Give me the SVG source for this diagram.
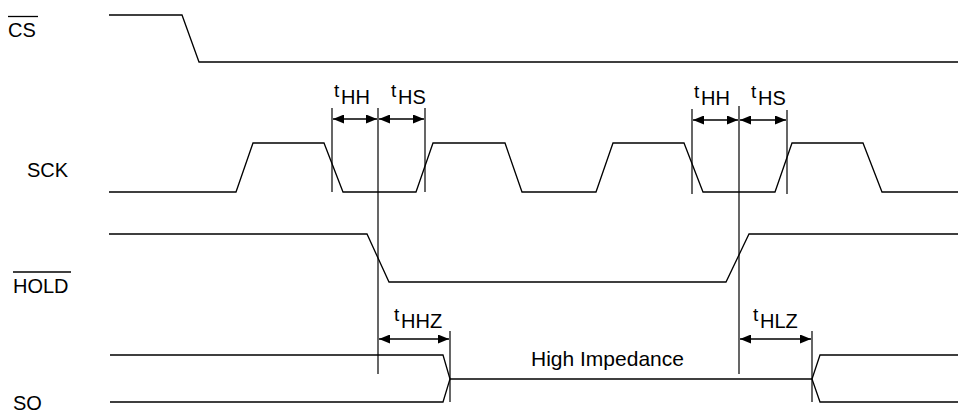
<svg xmlns="http://www.w3.org/2000/svg" width="958" height="414" viewBox="0 0 958 414">
<style>
.sig{fill:none;stroke:#000;stroke-width:1.3}
.ref{fill:none;stroke:#000;stroke-width:1.2}
.dim{fill:none;stroke:#000;stroke-width:1.6;marker-start:url(#ah);marker-end:url(#ah)}
.lbl{font-family:"Liberation Sans",Arial,sans-serif;font-size:20px;fill:#000}
.t{font-size:19px}
</style>
<defs>
<marker id="ah" viewBox="0 0 11 9" refX="11" refY="4.5" markerWidth="11" markerHeight="9" markerUnits="userSpaceOnUse" orient="auto-start-reverse">
<path d="M0,0 L11,4.5 L0,9 Z" fill="#000"/>
</marker>
</defs>
<rect width="958" height="414" fill="#fff"/>
<g id="label-cs"><text class="lbl" x="8" y="37">CS</text><line class="sig" x1="8" y1="16.5" x2="38" y2="16.5"/></g>
<g id="label-sck"><text class="lbl" x="27" y="177">SCK</text></g>
<g id="label-hold"><text class="lbl" x="13" y="293">HOLD</text><line class="sig" x1="13" y1="272" x2="71" y2="272"/></g>
<g id="label-so"><text class="lbl" x="13" y="410">SO</text></g>
<g id="wave-cs"><polyline class="sig" points="109,15 182,15 199,62 958,62"/></g>
<g id="wave-sck"><polyline class="sig" points="109,192 236,192 253,143 324,143 343,192 416,192 433,143 505,143 522,192 596,192 613,143 684,143 703,192 775,192 792,143 863,143 882,192 958,192"/></g>
<g id="wave-hold"><polyline class="sig" points="109,234 367,234 389,282 726,282 749,234 958,234"/></g>
<g id="wave-so">
<polyline class="sig" points="110,355 443,355 450,379 443,402 110,402"/>
<polyline class="sig" points="958,355 820,355 812,379 820,402 958,402"/>
<line class="sig" x1="450" y1="379" x2="812" y2="379"/>
<text class="lbl" x="531" y="366" style="font-size:21px">High Impedance</text>
</g>
<g id="connectors">
<line class="ref" x1="332" y1="108" x2="332" y2="192"/>
<line class="ref" x1="378" y1="108" x2="378" y2="374"/>
<line class="ref" x1="425" y1="108" x2="425" y2="192"/>
<line class="ref" x1="692" y1="109" x2="692" y2="194"/>
<line class="ref" x1="739" y1="106" x2="739" y2="374"/>
<line class="ref" x1="787" y1="110" x2="787" y2="194"/>
<line class="ref" x1="450" y1="331" x2="450" y2="402"/>
<line class="ref" x1="812" y1="331" x2="812" y2="402"/>
<line class="dim" x1="333" y1="119" x2="377" y2="119"/>
<line class="dim" x1="379" y1="119" x2="424" y2="119"/>
<line class="dim" x1="693" y1="120" x2="738" y2="120"/>
<line class="dim" x1="740" y1="120" x2="786" y2="120"/>
<line class="dim" x1="379" y1="339" x2="449" y2="339"/>
<line class="dim" x1="740" y1="339" x2="811" y2="339"/>
</g>
<g id="dim-labels">
<text class="lbl"><tspan class="t" x="334" y="97">t</tspan><tspan x="341" y="104">HH</tspan></text>
<text class="lbl"><tspan class="t" x="391" y="97">t</tspan><tspan x="398" y="104">HS</tspan></text>
<text class="lbl"><tspan class="t" x="694" y="98">t</tspan><tspan x="701" y="105">HH</tspan></text>
<text class="lbl"><tspan class="t" x="751" y="98">t</tspan><tspan x="758" y="105">HS</tspan></text>
<text class="lbl"><tspan class="t" x="394" y="321">t</tspan><tspan x="401" y="328">HHZ</tspan></text>
<text class="lbl"><tspan class="t" x="753" y="321">t</tspan><tspan x="760" y="328">HLZ</tspan></text>
</g>
</svg>
